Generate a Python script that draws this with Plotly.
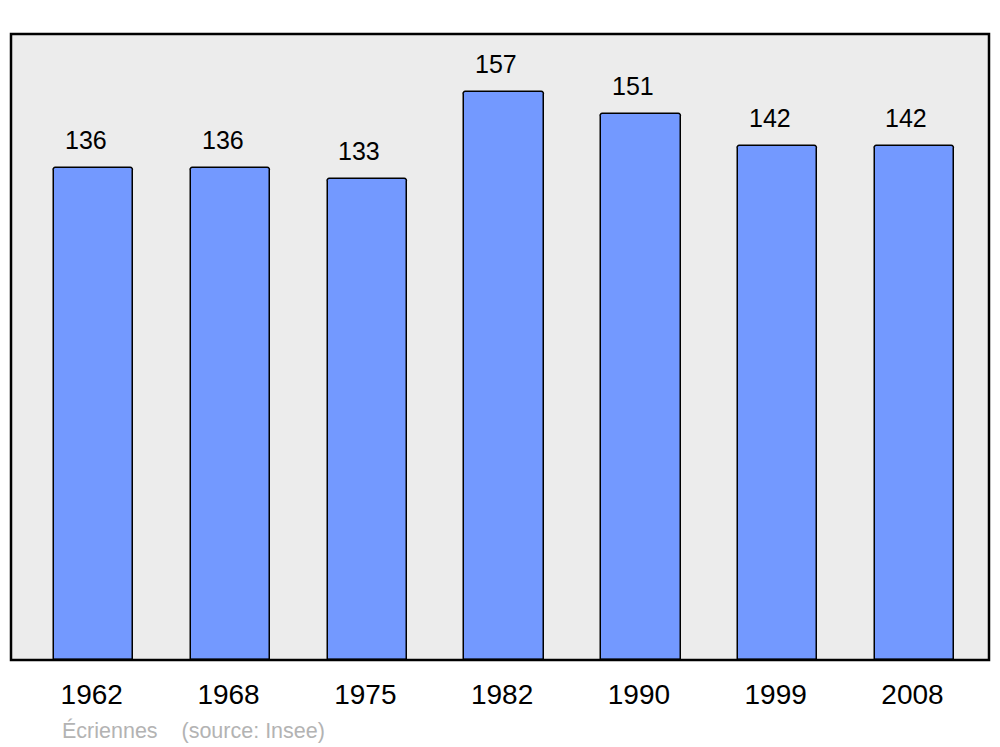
import plotly.graph_objects as go

# Population data (Insee)
YEARS = ["1962", "1968", "1975", "1982", "1990", "1999", "2008"]
POPULATION = [136, 136, 133, 157, 151, 142, 142]

BAR_COLOR = "#7399ff"
BG_COLOR = "#ececec"
FONT = "Liberation Sans, Arial, sans-serif"

xpos = list(range(len(YEARS)))

fig = go.Figure()
fig.add_trace(go.Bar(
    x=xpos, y=POPULATION,
    width=0.58,
    marker=dict(color=BAR_COLOR, line=dict(color="#000000", width=1.5),
                cornerradius=3),
    hoverinfo="x+y",
))

# value labels above each bar (sit slightly left of the bar centre)
for x, v in zip(xpos, POPULATION):
    fig.add_annotation(x=x, y=v, text=str(v), showarrow=False,
                       yanchor="middle", yshift=28, xshift=-8,
                       font=dict(family=FONT, size=25, color="#000000"))

# source note
fig.add_annotation(xref="paper", yref="paper", x=0.0505, y=-0.112,
                   xanchor="left", yanchor="middle", showarrow=False,
                   text="Écriennes    (source: Insee)",
                   font=dict(family=FONT, size=21.5, color="#b3b3b3"))

# frame around the plot area
fig.add_shape(type="rect", xref="paper", yref="paper",
              x0=0, x1=1, y0=0, y1=1,
              line=dict(color="#000000", width=2.5), layer="above")

fig.update_xaxes(range=[-0.605, 6.545], tickvals=xpos, ticktext=YEARS,
                 showgrid=False, zeroline=False, showline=False,
                 ticks="outside", ticklen=9, tickcolor="rgba(0,0,0,0)",
                 ticklabelshift=-2,
                 tickfont=dict(family=FONT, size=28, color="#000000"))
fig.update_yaxes(range=[0, 173], showgrid=False, zeroline=False,
                 showticklabels=False, showline=False)

fig.update_layout(
    width=1000, height=747,
    margin=dict(l=11, r=11, t=34, b=87),
    plot_bgcolor=BG_COLOR, paper_bgcolor="#ffffff",
    showlegend=False, bargap=0,
    font=dict(family=FONT),
)

# drop the default body margin so the figure fills the window exactly
fig.write_html("out.html",
               config={"displayModeBar": False},
               post_script="document.body.style.margin='0';"
                           "document.body.style.overflow='hidden';")
